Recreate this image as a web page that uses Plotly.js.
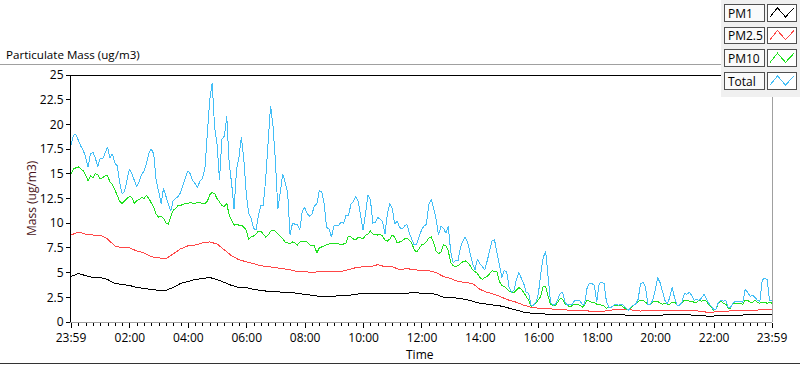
<!DOCTYPE html>
<html><head><meta charset="utf-8">
<script src="https://cdn.plot.ly/plotly-3.0.1.min.js"></script>
<style>html,body{margin:0;padding:0;background:#fff;}#chart{width:800px;height:365px;}
#chart .scatterlayer path.js-line{shape-rendering:crispEdges;}
#chart .layer-above path{shape-rendering:crispEdges;}
</style>
</head><body><div id="chart"></div>
<script>
// ---- data ----
const seriesNames = ['PM1', 'PM2.5', 'PM10', 'Total'];
const seriesColors = ['#000000', '#ff4646', '#1ee21e', '#43bef6'];
const fineStepMin = 5;     // Total / PM10 sample spacing, minutes after 23:59
const coarseStepMin = 15;  // PM1 / PM2.5 sample spacing
const xTickMinutes = [0, 121, 241, 361, 481, 601, 721, 841, 961, 1081, 1201, 1321, 1440];
const xTickLabels = ['23:59', '02:00', '04:00', '06:00', '08:00', '10:00', '12:00', '14:00', '16:00', '18:00', '20:00', '22:00', '23:59'];

const totalVals = [
17.9,18.9,19.0,18.3,17.8,17.4,16.7,15.7,17.0,17.2,
16.6,15.7,16.6,16.5,17.2,17.7,16.6,17.0,16.1,15.8,
14.1,13.0,13.2,14.4,15.5,15.0,14.3,13.7,14.2,14.9,
15.3,16.0,17.1,17.5,17.0,14.3,13.2,12.0,13.5,12.7,
11.8,11.2,12.3,12.5,12.7,13.1,13.8,14.6,15.3,15.0,
14.3,14.0,13.6,14.3,14.5,15.5,19.2,22.5,24.2,19.7,
18.0,14.4,18.5,18.8,20.8,16.0,14.0,11.4,15.4,16.7,
18.7,16.5,13.0,
11.0,10.5,9.5,9.3,10.8,11.8,11.8,14.5,18.7,21.9,
19.8,16.2,11.4,13.5,15.0,14.1,13.1,8.8,10.0,9.9,
9.9,9.3,11.2,11.6,11.0,10.7,10.9,11.8,11.9,13.3,
13.2,12.0,9.6,9.4,8.6,9.7,9.8,9.8,10.1,10.0,
10.8,10.8,11.9,12.2,12.7,12.2,10.7,9.3,11.0,12.8,
12.4,10.0,10.1,10.6,10.4,10.2,8.9,11.0,12.0,11.5,
9.9,10.2,9.6,9.4,9.7,9.9,9.0,8.4,7.8,7.9,
8.7,9.3,9.7,9.9,
11.9,12.4,11.5,10.4,8.8,9.7,9.5,9.0,9.7,7.1,
6.0,6.2,6.2,7.5,8.2,8.6,8.0,6.9,5.9,5.3,
6.4,5.9,5.6,5.3,6.2,7.3,8.2,8.3,7.0,5.5,
4.5,5.2,5.1,3.5,3.0,3.2,4.3,5.0,4.5,3.9,
3.0,2.9,1.7,1.7,2.0,2.8,4.9,6.5,7.2,4.6,
2.0,1.7,1.8,2.3,2.9,3.0,2.0,1.7,1.8,1.8,
2.2,2.2,2.2,1.8,1.8,3.4,3.9,3.9,3.7,2.0,
3.9,4.0,3.9,2.0,
1.5,1.5,1.7,1.8,1.7,1.8,1.7,1.4,1.2,1.5,
1.7,1.8,2.3,3.9,4.0,3.6,1.8,1.8,2.2,3.2,
4.5,4.0,3.2,2.2,1.8,2.5,3.5,2.4,1.7,1.7,
2.0,2.9,2.8,3.0,2.7,2.2,2.3,2.2,2.4,2.8,
2.4,1.9,1.6,1.3,1.3,2.0,2.2,2.1,2.2,1.5,
1.5,1.9,2.1,2.1,2.1,2.0,3.3,3.0,2.6,2.7,
2.5,2.2,2.1,4.3,4.4,4.3,2.2,2.2
];

const pm10Vals = [
15.0,15.5,15.6,15.7,15.5,15.3,14.9,14.3,14.8,14.6,
15.0,14.9,14.5,14.6,14.8,14.8,14.2,13.9,13.4,12.8,
12.2,12.0,12.3,12.5,12.7,12.6,12.0,12.3,12.4,12.6,
12.5,12.8,12.5,12.0,11.6,10.9,10.6,10.7,10.5,10.0,
9.9,10.7,11.3,11.5,11.8,11.8,11.9,12.0,12.0,12.1,
12.0,12.0,12.1,12.1,12.0,12.0,12.2,12.9,13.1,13.0,
12.5,12.1,11.8,11.7,12.0,10.8,10.3,9.8,9.9,9.8,
9.8,9.6,9.3,
8.4,8.6,8.7,8.9,9.2,9.2,8.9,8.6,8.8,9.2,
9.3,9.2,8.9,8.7,8.4,8.1,8.0,7.9,8.1,8.0,
7.8,8.1,8.1,8.1,8.1,7.8,7.7,7.7,7.0,7.5,
7.6,7.7,7.8,7.9,7.9,7.9,7.9,7.9,7.8,7.9,
8.0,8.7,8.6,8.4,8.3,8.6,8.5,8.4,8.8,8.9,
9.2,8.9,8.9,8.8,8.9,8.7,8.3,8.2,8.4,8.8,
8.6,8.0,8.1,8.2,8.4,8.5,8.3,8.0,7.3,7.1,
7.4,7.8,7.9,8.1,
8.5,8.6,8.0,7.2,6.9,7.1,7.8,7.7,7.2,6.0,
5.7,5.6,5.7,5.9,6.1,6.2,6.0,5.7,5.3,5.1,
4.9,4.5,4.3,4.5,4.6,4.9,5.2,5.1,5.1,4.1,
3.7,3.6,3.4,3.1,3.0,3.0,3.2,3.5,3.3,3.0,
2.6,2.2,1.6,1.7,1.9,2.2,2.6,3.6,3.6,2.6,
1.8,1.7,1.7,2.0,2.4,2.3,1.8,1.7,1.5,1.7,
1.8,1.8,1.7,1.5,1.7,2.2,2.1,2.0,2.0,1.8,
1.8,1.7,1.6,1.4,
1.5,1.5,1.7,1.7,1.7,1.7,1.5,1.3,1.2,1.4,
1.7,1.8,2.1,2.2,2.2,2.0,1.8,1.8,2.0,2.1,
2.1,1.9,1.8,1.9,1.8,1.8,2.0,2.0,1.7,1.7,
2.0,2.2,2.2,2.1,2.1,2.0,2.0,2.2,2.1,2.2,
2.1,1.8,1.6,1.2,1.3,1.9,2.1,1.9,1.8,1.4,
1.4,1.9,1.9,1.9,1.9,1.8,2.2,2.2,2.0,2.0,
2.2,2.0,1.9,2.0,2.0,1.9,2.0,1.9
];

const pm25Vals = [
8.8,9.1,8.9,8.8,8.8,8.4,7.7,7.5,7.5,7.2,
7.0,6.6,6.5,6.4,6.9,7.4,7.7,7.8,8.0,8.1,
7.9,7.3,6.7,6.3,6.1,5.9,5.7,5.6,5.5,5.4,
5.3,5.1,5.1,5.0,5.1,5.1,5.1,5.1,5.3,5.5,
5.6,5.6,5.8,5.6,5.6,5.3,5.4,5.3,5.2,5.2,
5.0,4.6,4.4,4.1,4.0,3.9,3.3,3.0,2.8,2.5,
2.2,2.0,1.7,1.5,1.4,1.4,1.3,1.3,1.2,1.2,
1.2,1.1,1.1,1.1,1.2,1.3,1.3,1.2,1.1,1.2,
1.2,1.2,1.2,1.2,1.2,1.2,1.1,1.0,1.0,1.1,
1.1,1.2,1.2,1.2,1.2,1.3,1.3
];

const pm1Vals = [
4.6,4.9,4.7,4.5,4.5,4.3,3.9,3.8,3.7,3.5,
3.4,3.3,3.2,3.2,3.5,3.9,4.1,4.3,4.4,4.5,
4.3,4.0,3.7,3.5,3.5,3.3,3.2,3.1,3.1,3.0,
3.0,2.9,2.8,2.7,2.6,2.6,2.6,2.7,2.7,2.8,
2.9,2.9,2.9,2.9,2.9,2.9,2.9,3.0,2.9,2.9,
2.8,2.5,2.5,2.4,2.3,2.1,1.9,1.8,1.7,1.6,
1.4,1.2,1.0,0.9,0.9,0.8,0.8,0.8,0.8,0.8,
0.8,0.8,0.8,0.8,0.8,0.8,0.7,0.7,0.7,0.7,
0.7,0.7,0.8,0.8,0.8,0.7,0.7,0.6,0.6,0.7,
0.7,0.7,0.7,0.8,0.8,0.8,0.8
];

// ---- chart ----
const FONT = 'Segoe UI, "Open Sans", "Noto Sans", sans-serif';
const L = 71, R = 772, T = 75, B = 322, W = 800, H = 365;
const pxX = x => (x - L) / (R - L);
const pxY = y => (B - y) / (B - T);
const sampleTimes = (vals, step) => vals.map((_, i) => i * step);

const seriesVals = [pm1Vals, pm25Vals, pm10Vals, totalVals];
const seriesSteps = [coarseStepMin, coarseStepMin, fineStepMin, fineStepMin];
const traces = seriesVals.map((v, i) => ({
  type: 'scatter', mode: 'lines', name: seriesNames[i],
  x: sampleTimes(v, seriesSteps[i]), y: v,
  line: {color: seriesColors[i], width: 1},
  hoverinfo: 'skip', showlegend: false
}));

const shapes = [];
const annotations = [];
// outer frame lines
shapes.push({type: 'line', xref: 'paper', yref: 'paper', x0: pxX(0), x1: pxX(721), y0: pxY(64.5), y1: pxY(64.5), line: {color: '#a0a0a0', width: 1}});
shapes.push({type: 'line', xref: 'paper', yref: 'paper', x0: pxX(0), x1: pxX(800), y0: pxY(363.5), y1: pxY(363.5), line: {color: '#333333', width: 1}});
// plot frame: top black, right grey
shapes.push({type: 'line', xref: 'paper', yref: 'paper', x0: 0, x1: pxX(721), y0: 1, y1: 1, line: {color: '#000', width: 1}});
shapes.push({type: 'line', xref: 'paper', yref: 'paper', x0: 1, x1: 1, y0: 0, y1: 1, line: {color: '#a0a0a0', width: 1}});
// legend panel
shapes.push({type: 'rect', xref: 'paper', yref: 'paper', x0: pxX(721), x1: pxX(800), y0: pxY(97), y1: pxY(0), fillcolor: '#f0f0f0', line: {width: 0}});
seriesNames.forEach((nm, i) => {
  const top = 4.5 + 22.7 * i, bot = top + 16.5;
  shapes.push({type: 'rect', xref: 'paper', yref: 'paper', x0: pxX(724.5), x1: pxX(764.5), y0: pxY(bot), y1: pxY(top), fillcolor: '#fafafa', line: {color: '#505050', width: 1}});
  shapes.push({type: 'rect', xref: 'paper', yref: 'paper', x0: pxX(767.5), x1: pxX(796.5), y0: pxY(bot), y1: pxY(top), fillcolor: '#ffffff', line: {color: '#505050', width: 1}});
  const pts = [[770, top + 12.5], [777.5, top + 3.3], [785.5, top + 12.5], [794, top + 3.3]];
  const path = pts.map((p, j) => (j ? 'L' : 'M') + pxX(p[0]) + ',' + pxY(p[1])).join(' ');
  shapes.push({type: 'path', xref: 'paper', yref: 'paper', path: path, line: {color: seriesColors[i], width: 1}});
  annotations.push({xref: 'paper', yref: 'paper', x: pxX(726), y: pxY(top + 8.5), xanchor: 'left', yanchor: 'middle', showarrow: false, text: nm, font: {family: FONT, size: 12, color: '#000'}});
});
// titles
annotations.push({xref: 'paper', yref: 'paper', x: pxX(4), y: pxY(55), xanchor: 'left', yanchor: 'middle', showarrow: false, text: 'Particulate Mass (ug/m3)', font: {family: FONT, size: 11.6, color: '#000'}});
annotations.push({xref: 'paper', yref: 'paper', x: pxX(31), y: pxY(198), xanchor: 'center', yanchor: 'middle', textangle: -90, showarrow: false, text: 'Mass (ug/m3)', font: {family: FONT, size: 12, color: '#4a1420'}});
annotations.push({xref: 'paper', yref: 'paper', x: pxX(420), y: pxY(354), xanchor: 'center', yanchor: 'middle', showarrow: false, text: 'Time', font: {family: FONT, size: 12, color: '#000'}});

const layout = {
  width: W, height: H,
  margin: {l: L, r: W - R, t: T, b: H - B, pad: 0},
  paper_bgcolor: '#fff', plot_bgcolor: '#fff',
  font: {family: FONT, size: 12, color: '#000'},
  showlegend: false,
  xaxis: {
    range: [0, 1440], tickmode: 'array', tickvals: xTickMinutes, ticktext: xTickLabels,
    ticks: 'outside', ticklen: 5, tickcolor: '#000', tickwidth: 1,
    showgrid: false, zeroline: false, showline: true, linecolor: '#a0a0a0', linewidth: 1,
    minor: {tickmode: 'linear', tick0: 1, dtick: 15, ticks: 'outside', ticklen: 3, tickcolor: '#000', tickwidth: 1, showgrid: false},
    tickfont: {family: FONT, size: 12, color: '#000'}, fixedrange: true
  },
  yaxis: {
    range: [0, 25], tickmode: 'linear', tick0: 0, dtick: 2.5,
    ticks: 'outside', ticklen: 4, tickcolor: '#000', tickwidth: 1,
    showgrid: false, zeroline: false, showline: true, linecolor: '#000', linewidth: 1,
    tickfont: {family: FONT, size: 12, color: '#000'}, fixedrange: true
  },
  shapes: shapes, annotations: annotations
};

Plotly.newPlot('chart', traces, layout, {displayModeBar: false, staticPlot: true});
</script>
</body></html>
